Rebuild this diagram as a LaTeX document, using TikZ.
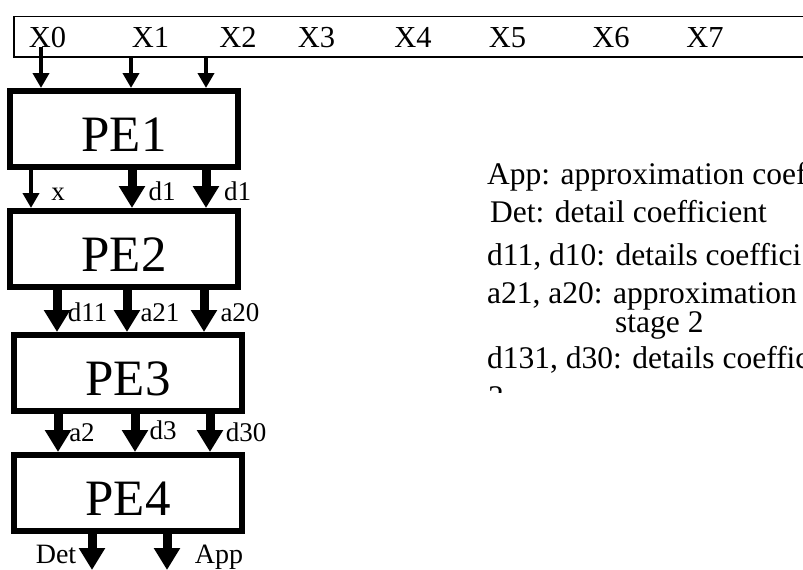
\documentclass[tikz,border=0pt]{standalone}
\usepackage{fontspec}
\setmainfont{Liberation Serif}
\usetikzlibrary{arrows.meta}
\begin{document}
\begin{tikzpicture}[x=1pt,y=-1pt,
  pebox/.style={draw, line width=6pt, minimum width=228pt, minimum height=76pt, inner sep=0pt,
    text height=44pt, text depth=0pt, font=\fontsize{51}{56}\selectfont},
  barbox/.style={draw, line width=1.8pt, minimum width=806pt, minimum height=40.5pt, inner sep=0pt},
  thinarr/.style={line width=4pt, -{Triangle[length=15pt,width=16pt]}},
  thickarr/.style={line width=9pt, -{Triangle[length=22pt,width=25pt]}},
  xlab/.style={inner sep=0pt, anchor=base, font=\fontsize{30.5}{34}\selectfont},
  slab/.style={inner sep=0pt, anchor=base, font=\fontsize{27}{30}\selectfont},
  olab/.style={inner sep=0pt, anchor=base, font=\fontsize{28}{32}\selectfont},
  note/.style={inner sep=0pt, anchor=base west, font=\fontsize{31.5}{36}\selectfont}]
\useasboundingbox (0,0) rectangle (803,570);

% input bar
\node[barbox] (xbar) at (417,36.75) {};
\node[xlab] (x0) at (47.5,47) {X0};
\node[xlab] (x1) at (150.5,47) {X1};
\node[xlab] (x2) at (238,47) {X2};
\node[xlab] (x3) at (316.5,47) {X3};
\node[xlab] (x4) at (413,47) {X4};
\node[xlab] (x5) at (507.5,47) {X5};
\node[xlab] (x6) at (611,47) {X6};
\node[xlab] (x7) at (705,47) {X7};

% processing elements
\node[pebox] (pe1) at (124,129) {PE1};
\node[pebox] (pe2) at (124,249) {PE2};
\node[pebox] (pe3) at (128,373) {PE3};
\node[pebox] (pe4) at (128,493) {PE4};

% column coordinates
\coordinate (ca) at (41,0);
\coordinate (cb) at (131,0);
\coordinate (cc) at (206,0);
\coordinate (cd) at (31,0);
\coordinate (ce) at (132,0);
\coordinate (cf) at (206,0);
\coordinate (cg) at (57,0);
\coordinate (ch) at (127,0);
\coordinate (ci) at (204,0);
\coordinate (cj) at (58,0);
\coordinate (ck) at (135,0);
\coordinate (cl) at (210,0);
\coordinate (detend) at (92,570);
\coordinate (append) at (167,570);

% inputs to PE1
\draw[thinarr] (x0.south -| ca) -- (pe1.north -| ca);
\draw[thinarr] (xbar.south -| cb) -- (pe1.north -| cb);
\draw[thinarr] (xbar.south -| cc) -- (pe1.north -| cc);

% PE1 -> PE2
\draw[thinarr] (pe1.south -| cd) -- (pe2.north -| cd);
\draw[thickarr] (pe1.south -| ce) -- (pe2.north -| ce);
\draw[thickarr] (pe1.south -| cf) -- (pe2.north -| cf);
\node[slab] (lx) at (58,200) {x};
\node[slab] (ld1a) at (162,200) {d1};
\node[slab] (ld1b) at (237.5,200) {d1};

% PE2 -> PE3
\draw[thickarr] (pe2.south -| cg) -- (pe3.north -| cg);
\draw[thickarr] (pe2.south -| ch) -- (pe3.north -| ch);
\draw[thickarr] (pe2.south -| ci) -- (pe3.north -| ci);
\node[slab] (ld11) at (87.5,321) {d11};
\node[slab] (la21) at (160,321) {a21};
\node[slab] (la20) at (240,321) {a20};

% PE3 -> PE4
\draw[thickarr] (pe3.south -| cj) -- (pe4.north -| cj);
\draw[thickarr] (pe3.south -| ck) -- (pe4.north -| ck);
\draw[thickarr] (pe3.south -| cl) -- (pe4.north -| cl);
\node[slab] (la2) at (82,441) {a2};
\node[slab] (ld3) at (163,439) {d3};
\node[slab] (ld30) at (246,441) {d30};

% outputs
\draw[thickarr] (pe4.south -| detend) -- (detend);
\draw[thickarr] (pe4.south -| append) -- (append);
\node[olab] (ldet) at (56,563) {Det};
\node[olab] (lapp) at (219,563) {App};

% legend text (clipped as in the reference)
\begin{scope}
\clip (470,140) rectangle (803,392);
\node[note] (n1) at (487,184) {App: approximation coef};
\node[note] (n2) at (490,222) {Det: detail coefficient};
\node[note] (n3) at (487,265) {d11, d10: details coeffici};
\node[note] (n4) at (487,303) {a21, a20: approximation};
\node[note] (n5) at (615,332) {stage 2};
\node[note] (n6) at (487,368) {d131, d30: details coeffic};
\node[note] (n7) at (488,407) {3};
\end{scope}
\end{tikzpicture}
\end{document}
